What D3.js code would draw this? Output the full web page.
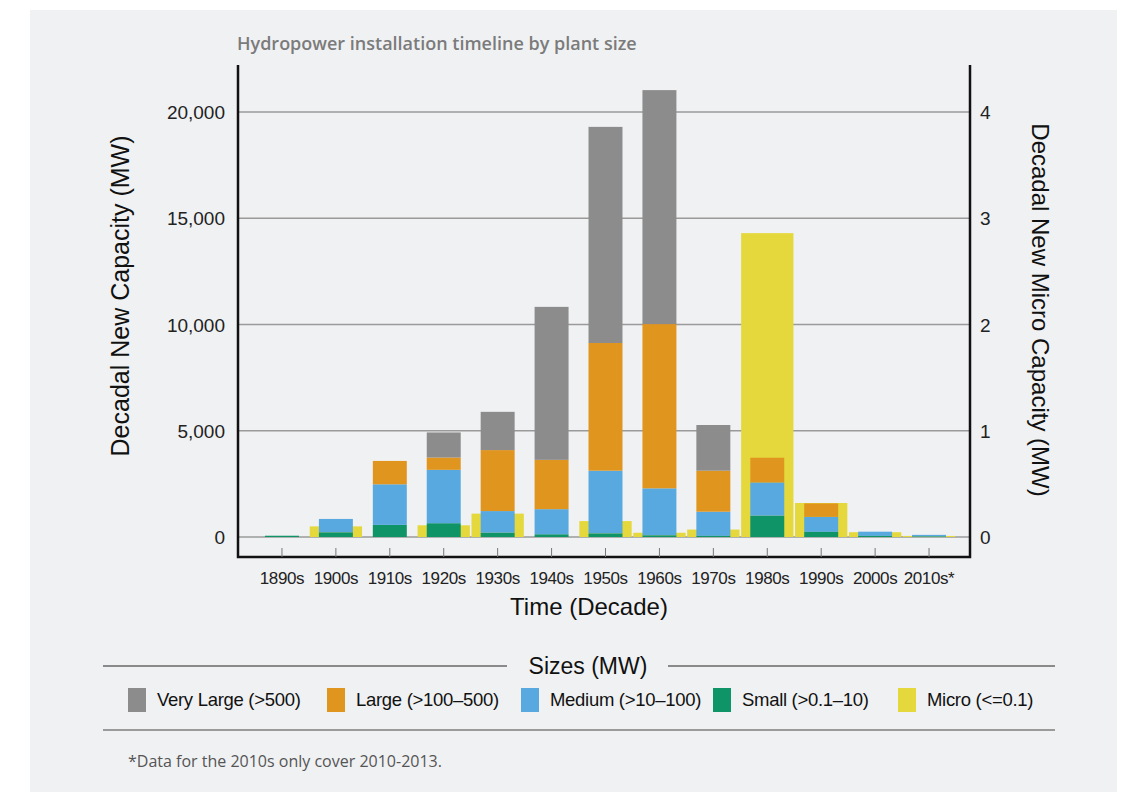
<!DOCTYPE html>
<html>
<head>
<meta charset="utf-8">
<script src="https://cdn.jsdelivr.net/npm/d3@7"></script>
<style>
  body { margin: 0; background: #ffffff; }
  svg { display: block; }
</style>
</head>
<body>
<div id="chart"></div>
<script>
// decades on the x axis
var decades = ["1890s","1900s","1910s","1920s","1930s","1940s","1950s","1960s","1970s","1980s","1990s","2000s","2010s*"];

// new capacity per decade (MW), left axis
var veryLarge = [0, 0, 0, 1180, 1800, 7200, 10170, 11010, 2150, 0, 0, 0, 0];
var large     = [0, 0, 1100, 580, 2870, 2320, 6010, 7730, 1930, 1160, 630, 0, 0];
var medium    = [0, 630, 1910, 2510, 1020, 1180, 2950, 2210, 1140, 1570, 710, 200, 70];
var small     = [60, 220, 570, 650, 200, 130, 170, 80, 50, 1000, 240, 50, 30];

// micro capacity per decade (MW), right axis
var micro = [0, 0.10, 0, 0.11, 0.22, 0, 0.15, 0.04, 0.07, 2.86, 0.32, 0.045, 0.01];

var leftTicks = [0, 5000, 10000, 15000, 20000];
var rightTicks = [0, 1, 2, 3, 4];

var seriesNames = ["Very Large (>500)", "Large (>100\u2013500)", "Medium (>10\u2013100)", "Small (>0.1\u201310)", "Micro (<=0.1)"];
var seriesColors = ["#8c8c8c", "#e0951f", "#57a9df", "#0f9467", "#e4d83c"];

function init(){
    var w = 1145;
    var h = 792;

    var svg = d3.select("#chart")
                .append("svg")
                .attr("width", w)
                .attr("height", h);

    // light panel
    svg.append("rect")
        .attr("x", 30).attr("y", 10)
        .attr("width", 1087).attr("height", h - 10)
        .attr("fill", "#f0f1f3");

    var left = 238, right = 970, top = 65, bottom = 557;

    var x = d3.scaleBand()
                .domain(decades)
                .range([255, 956])
                .padding(0);

    var yL = d3.scaleLinear()
                .domain([0, 20000])
                .range([537, 112]);

    var yR = d3.scaleLinear()
                .domain([0, 4])
                .range([537, 112]);

    // title
    svg.append("text")
        .attr("x", 237).attr("y", 50)
        .attr("font-family", "Open Sans")
        .attr("font-weight", 600)
        .attr("font-size", 18)
        .attr("fill", "#7b7b7b")
        .text("Hydropower installation timeline by plant size");

    // gridlines
    svg.selectAll("line.grid")
        .data(leftTicks)
        .enter()
        .append("line")
        .attr("class", "grid")
        .attr("x1", left).attr("x2", right)
        .attr("y1", function(d){ return yL(d); })
        .attr("y2", function(d){ return yL(d); })
        .style("stroke", "#9a9a9a")
        .style("stroke-width", 1.5);

    // micro bars behind
    var mw = x.bandwidth() * 0.97;
    svg.selectAll("rect.micro")
        .data(micro)
        .enter()
        .append("rect")
        .attr("class", "micro")
        .attr("x", function(d, i){ return x(decades[i]) + (x.bandwidth() - mw) / 2; })
        .attr("y", function(d){ return yR(d); })
        .attr("width", mw)
        .attr("height", function(d){ return yR(0) - yR(d); })
        .attr("fill", seriesColors[4]);

    // stacked bars
    var rows = decades.map(function(d, i){
        return {decade: d, veryLarge: veryLarge[i], large: large[i], medium: medium[i], small: small[i]};
    });
    var keys = ["small", "medium", "large", "veryLarge"];
    var keyColors = {small: seriesColors[3], medium: seriesColors[2], large: seriesColors[1], veryLarge: seriesColors[0]};
    var stack = d3.stack().keys(keys)(rows);

    var bw = x.bandwidth() * 0.63;
    svg.selectAll("g.layer")
        .data(stack)
        .enter()
        .append("g")
        .attr("class", "layer")
        .attr("fill", function(d){ return keyColors[d.key]; })
        .selectAll("rect")
        .data(function(d){ return d; })
        .enter()
        .append("rect")
        .attr("x", function(d){ return x(d.data.decade) + (x.bandwidth() - bw) / 2; })
        .attr("y", function(d){ return yL(d[1]); })
        .attr("width", bw)
        .attr("height", function(d){ return yL(d[0]) - yL(d[1]); });

    // frame
    var frame = d3.path();
    frame.moveTo(left, top);
    frame.lineTo(left, bottom);
    frame.lineTo(right, bottom);
    frame.lineTo(right, top);
    svg.append("path")
        .attr("d", frame.toString())
        .attr("fill", "none")
        .style("stroke", "#111")
        .style("stroke-width", 2.5);

    // x ticks
    svg.selectAll("line.xtick")
        .data(decades)
        .enter()
        .append("line")
        .attr("class", "xtick")
        .attr("x1", function(d){ return x(d) + x.bandwidth() / 2; })
        .attr("x2", function(d){ return x(d) + x.bandwidth() / 2; })
        .attr("y1", bottom)
        .attr("y2", bottom - 9)
        .style("stroke", "#777")
        .style("stroke-width", 1);

    svg.selectAll("text.xlab")
        .data(decades)
        .enter()
        .append("text")
        .attr("class", "xlab")
        .attr("x", function(d){ return x(d) + x.bandwidth() / 2; })
        .attr("y", 584)
        .attr("text-anchor", "middle")
        .attr("font-family", "Liberation Sans")
        .attr("font-size", 17)
        .attr("letter-spacing", -0.4)
        .attr("fill", "#222")
        .text(function(d){ return d; });

    // left axis labels
    var fmt = d3.format(",");
    svg.selectAll("text.ylab")
        .data(leftTicks)
        .enter()
        .append("text")
        .attr("class", "ylab")
        .attr("x", 225)
        .attr("y", function(d){ return yL(d) + 7; })
        .attr("text-anchor", "end")
        .attr("font-family", "Liberation Sans")
        .attr("font-size", 19)
        .attr("fill", "#222")
        .text(function(d){ return fmt(d); });

    // right axis labels
    svg.selectAll("text.rlab")
        .data(rightTicks)
        .enter()
        .append("text")
        .attr("class", "rlab")
        .attr("x", 980)
        .attr("y", function(d){ return yR(d) + 7; })
        .attr("font-family", "Liberation Sans")
        .attr("font-size", 19)
        .attr("fill", "#222")
        .text(function(d){ return d; });

    // axis titles
    svg.append("text")
        .attr("transform", "translate(129,296) rotate(-90)")
        .attr("text-anchor", "middle")
        .attr("font-family", "Liberation Sans")
        .attr("font-size", 25)
        .attr("fill", "#111")
        .text("Decadal New Capacity (MW)");

    svg.append("text")
        .attr("transform", "translate(1032,310) rotate(90)")
        .attr("text-anchor", "middle")
        .attr("font-family", "Liberation Sans")
        .attr("font-size", 24)
        .attr("fill", "#111")
        .text("Decadal New Micro Capacity (MW)");

    svg.append("text")
        .attr("x", 589).attr("y", 615)
        .attr("text-anchor", "middle")
        .attr("font-family", "Liberation Sans")
        .attr("font-size", 24)
        .attr("fill", "#111")
        .text("Time (Decade)");

    // legend
    svg.append("line")
        .attr("x1", 103).attr("x2", 507)
        .attr("y1", 666).attr("y2", 666)
        .style("stroke", "#8a8a8a").style("stroke-width", 2);
    svg.append("line")
        .attr("x1", 668).attr("x2", 1055)
        .attr("y1", 666).attr("y2", 666)
        .style("stroke", "#8a8a8a").style("stroke-width", 2);
    svg.append("text")
        .attr("x", 588).attr("y", 674)
        .attr("text-anchor", "middle")
        .attr("font-family", "Liberation Sans")
        .attr("font-size", 23)
        .attr("fill", "#111")
        .text("Sizes (MW)");

    var legendX = [128, 327, 521, 713, 898];
    var items = svg.selectAll("g.leg")
        .data(seriesNames)
        .enter()
        .append("g")
        .attr("class", "leg")
        .attr("transform", function(d, i){ return "translate(" + legendX[i] + ",688)"; });
    items.append("rect")
        .attr("width", 18).attr("height", 24)
        .attr("fill", function(d, i){ return seriesColors[i]; });
    items.append("text")
        .attr("x", 29).attr("y", 18)
        .attr("font-family", "Liberation Sans")
        .attr("font-size", 18.5)
        .attr("letter-spacing", -0.3)
        .attr("fill", "#111")
        .text(function(d){ return d; });

    svg.append("line")
        .attr("x1", 103).attr("x2", 1055)
        .attr("y1", 730).attr("y2", 730)
        .style("stroke", "#9a9a9a").style("stroke-width", 2);

    svg.append("text")
        .attr("x", 128).attr("y", 767)
        .attr("font-family", "Open Sans")
        .attr("font-size", 16)
        .attr("fill", "#555")
        .text("*Data for the 2010s only cover 2010-2013.");
}
window.onload = init;
</script>
</body>
</html>
